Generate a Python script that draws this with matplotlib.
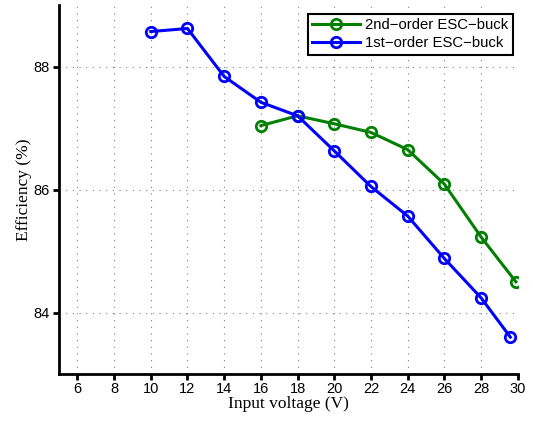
import matplotlib
matplotlib.use('Agg')
import matplotlib.pyplot as plt

# efficiency vs input voltage for the two ESC-buck converters
v_2nd = [16, 18, 20, 22, 24, 26, 28, 29.9]
eff_2nd = [87.04, 87.2, 87.07, 86.93, 86.65, 86.09, 85.23, 84.5]
v_1st = [10, 12, 14, 16, 18, 20, 22, 24, 26, 28, 29.6]
eff_1st = [88.57, 88.62, 87.84, 87.42, 87.2, 86.63, 86.05, 85.57, 84.88,
           84.24, 83.6]

xticks = list(range(6, 31, 2))
yticks = [84, 86, 88]

fig = plt.figure(figsize=(5.33, 4.24), dpi=100)
ax = fig.add_axes([0.1107, 0.1179, 0.8606, 0.870])

ax.plot(v_2nd, eff_2nd, color=(0, 0.5, 0), linewidth=2.2, marker='o',
        markersize=7.5, markerfacecolor='none', markeredgewidth=2,
        label='2nd\u2212order ESC\u2212buck')
ax.plot(v_1st, eff_1st, color=(0, 0, 1), linewidth=2.2, marker='o',
        markersize=7.5, markerfacecolor='none', markeredgewidth=2,
        label='1st\u2212order ESC\u2212buck')

ax.set_xlim(5, 30)
ax.set_ylim(83, 89)
ax.set_xticks(xticks)
ax.set_yticks(yticks)
ax.grid(True, linestyle=(0, (1, 5)), color='0.5', linewidth=0.8)

for side in ['top', 'right']:
    ax.spines[side].set_visible(False)
for side in ['left', 'bottom']:
    ax.spines[side].set_linewidth(2)
ax.tick_params(direction='out', length=4, width=2, labelsize=10.5)
ax.tick_params(axis='x', pad=2)
ax.tick_params(axis='y', pad=2.5)
for lbl in ax.get_xticklabels() + ax.get_yticklabels():
    lbl.set_family('Liberation Sans')

ax.set_xlabel('Input voltage (V)', family='Liberation Serif', fontsize=12.5,
              labelpad=0)
ax.set_ylabel('Efficiency (%)', family='Liberation Serif', fontsize=12.5,
              labelpad=1)

leg = ax.legend(loc='upper right', bbox_to_anchor=(0.996, 0.984),
                prop={'family': 'Liberation Sans', 'size': 10.7},
                fancybox=False, framealpha=1, edgecolor='black',
                borderpad=0.3, labelspacing=0.25, handlelength=3.2,
                handletextpad=0.35, borderaxespad=0.2)
leg.get_frame().set_linewidth(1.5)

fig.savefig('out.png', dpi=100)
